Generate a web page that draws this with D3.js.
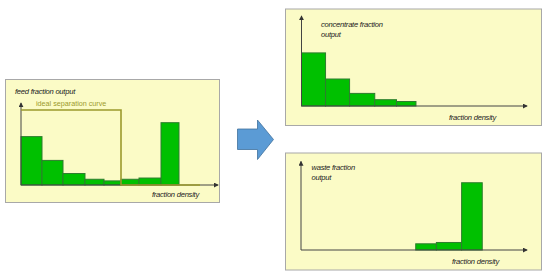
<!DOCTYPE html>
<html>
<head>
<meta charset="utf-8">
<script src="https://cdn.jsdelivr.net/npm/d3@7"></script>
<style>
  html, body { margin: 0; padding: 0; background: #fff; }
  svg text { font-family: 'Liberation Sans', Arial, sans-serif; font-style: italic; }
</style>
</head>
<body>
<svg id="chart" width="550" height="277"></svg>
<script>
// bin edges along the density axis (arbitrary units) and feed output per bin (% of axis height)
const densityEdges = [0, 21, 42, 64, 83, 100, 118, 140, 158];
const feedOutput = [59, 30, 14, 7, 5, 7, 8.5, 76];
const cutDensity = 100;        // ideal separation point
const idealLevel = 91.5;       // height of the ideal separation curve
const idealEnd = 179;          // where the curve stops on the baseline
const densityMax = 197;

const bins = feedOutput.map((v, i) => ({ x0: densityEdges[i], x1: densityEdges[i + 1], value: v }));
const concentrateBins = bins.filter(d => d.x1 <= cutDensity);
const wasteBins = bins.filter(d => d.x0 >= cutDensity);

/* ------------------------------ panel layout ------------------------------ */
const panels = [
    { box: [5, 79, 219, 202], axisX: [21, 218], axisY: [185, 103], data: bins,
      title: ['feed fraction output'], titleX: 15, titleY: 93.5, densityLabel: [199, 196.5], ideal: true },
    { box: [285, 8.5, 541, 125], axisX: [301.5, 527], axisY: [106, 16], data: concentrateBins,
      title: ['concentrate fraction', 'output'], titleX: 321, titleY: 27, densityLabel: [496, 119.5] },
    { box: [285, 152.5, 541, 269.5], axisX: [301, 527], axisY: [250, 161.5], data: wasteBins,
      title: ['waste fraction', 'output'], titleX: 311.5, titleY: 169.5, densityLabel: [499, 263.5] }
];

const svg = d3.select('#chart');

svg.append('defs').append('marker')
    .attr('id', 'tip')
    .attr('viewBox', '0 0 6 6')
    .attr('refX', 5).attr('refY', 3)
    .attr('markerWidth', 5).attr('markerHeight', 5)
    .attr('markerUnits', 'userSpaceOnUse')
    .attr('orient', 'auto')
    .append('path')
    .attr('d', 'M0,0L6,3L0,6Z')
    .attr('fill', '#333');

panels.forEach(p => {
    const g = svg.append('g');
    const x = d3.scaleLinear().domain([0, densityMax]).range(p.axisX);
    const y = d3.scaleLinear().domain([0, 100]).range(p.axisY);

    g.append('rect')
        .attr('x', p.box[0] + 0.5).attr('y', p.box[1] + 0.5)
        .attr('width', p.box[2] - p.box[0]).attr('height', p.box[3] - p.box[1])
        .attr('fill', '#fbfbc6')
        .attr('stroke', '#a8a8a8');

    g.selectAll('rect.bar')
        .data(p.data)
        .enter()
        .append('rect')
        .attr('class', 'bar')
        .attr('x', d => x(d.x0))
        .attr('y', d => y(d.value))
        .attr('width', d => x(d.x1) - x(d.x0))
        .attr('height', d => y(0) - y(d.value))
        .attr('fill', '#00c000')
        .attr('stroke', '#2e7d2e')
        .attr('stroke-width', 1);

    // axes
    g.append('line')
        .attr('x1', x(0)).attr('y1', y(0))
        .attr('x2', x(densityMax)).attr('y2', y(0))
        .attr('stroke', '#444').attr('stroke-width', 1)
        .attr('marker-end', 'url(#tip)');
    g.append('line')
        .attr('x1', x(0)).attr('y1', y(0))
        .attr('x2', x(0)).attr('y2', y(100))
        .attr('stroke', '#444').attr('stroke-width', 1)
        .attr('marker-end', 'url(#tip)');

    if (p.ideal) {
        const curve = [[0, idealLevel], [cutDensity, idealLevel], [cutDensity, 0], [idealEnd, 0]];
        g.append('path')
            .attr('d', d3.line().x(d => x(d[0])).y(d => y(d[1]))(curve))
            .attr('fill', 'none')
            .attr('stroke', '#9c9a2c')
            .attr('stroke-width', 1.6);
        g.append('text')
            .attr('x', x(15)).attr('y', y(idealLevel) - 3.5)
            .style('font-style', 'normal')
            .attr('font-size', 7.2)
            .attr('fill', '#9c9a2c')
            .text('ideal separation curve');
    }

    g.append('text')
        .attr('x', p.titleX).attr('y', p.titleY)
        .attr('font-size', 7.6)
        .attr('letter-spacing', -0.25)
        .attr('fill', '#222')
        .selectAll('tspan')
        .data(p.title)
        .enter()
        .append('tspan')
        .attr('x', p.titleX)
        .attr('dy', (d, i) => i ? 10 : 0)
        .text(d => d);

    g.append('text')
        .attr('x', p.densityLabel[0]).attr('y', p.densityLabel[1])
        .attr('text-anchor', 'end')
        .attr('font-size', 7.6)
        .attr('letter-spacing', -0.25)
        .attr('fill', '#222')
        .text('fraction density');
});

/* ------------------------------- blue arrow ------------------------------- */
const arrow = [[237.5, 129], [257.5, 129], [257.5, 120], [273.5, 139.5], [257.5, 159.5], [257.5, 149.5], [237.5, 149.5]];
svg.append('path')
    .attr('d', d3.line()(arrow) + 'Z')
    .attr('fill', '#5b9bd5')
    .attr('stroke', '#41719c')
    .attr('stroke-width', 0.8);
</script>
</body>
</html>
